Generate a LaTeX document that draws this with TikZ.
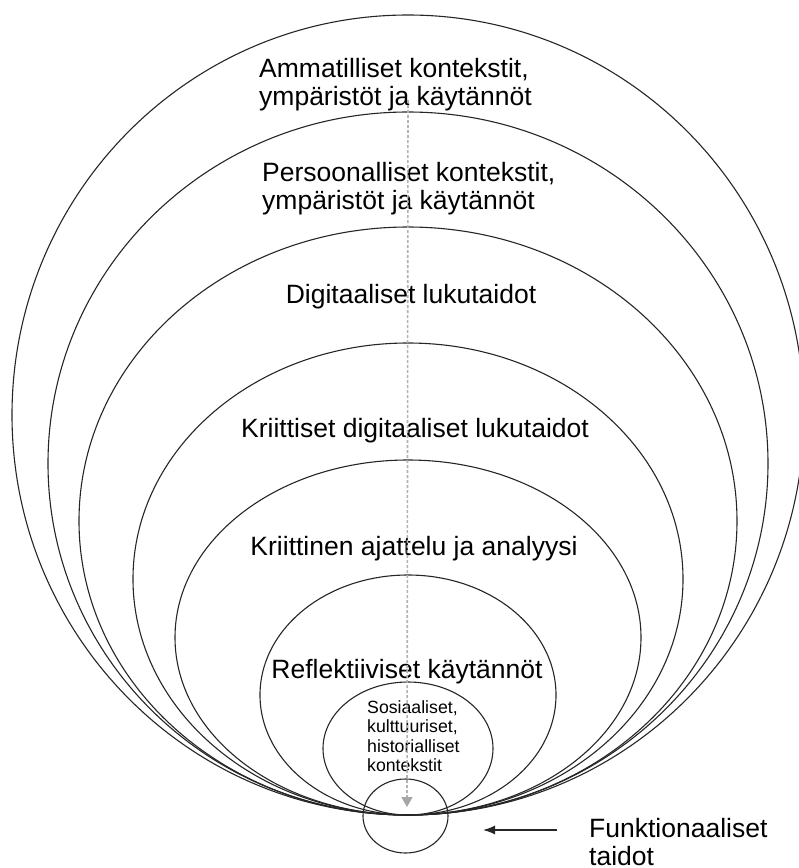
\documentclass[tikz,border=0pt]{standalone}
\usepackage{fontspec}
\setmainfont{Liberation Sans}
\usepackage{tikz}
\usetikzlibrary{shapes.geometric,arrows.meta,positioning}

\begin{document}
\begin{tikzpicture}[x=1pt,y=-1pt]
		\tikzstyle{ring}=[ellipse, draw=black!85, line width=1.1pt, inner sep=0pt]
		\tikzstyle{lbl}=[font=\fontsize{26.5}{28.5}\selectfont, inner sep=0pt, align=left]
		\tikzstyle{small}=[font=\fontsize{17.7}{19.5}\selectfont, inner sep=0pt, align=left]
		\tikzstyle{guide}=[draw=black!30, line width=1.6pt, dash pattern=on 3pt off 2pt, -{Triangle[width=11pt,length=10pt,color=black!35,fill=black!35]}]
		\tikzstyle{connect}=[draw=black!85, line width=1.4pt, -{Latex[length=12pt,width=9pt]}]
		\useasboundingbox (0,0) rectangle (799,868);
		% nested rings, all touching at the bottom
		\node[ring, minimum width=792pt, minimum height=800pt] (amm) at (408,415) { };
		\node[ring, minimum width=720pt, minimum height=703pt] (pers) at (408,463.5) { };
		\node[ring, minimum width=658pt, minimum height=588pt] (digi) at (408,521) { };
		\node[ring, minimum width=550pt, minimum height=472pt] (krit) at (408,579) { };
		\node[ring, minimum width=466pt, minimum height=355pt] (ajat) at (408,637.5) { };
		\node[ring, minimum width=296pt, minimum height=240pt] (refl) at (408,695) { };
		\node[ring, minimum width=170pt, minimum height=133pt] (sos) at (408,748.5) { };
		\node[ring, minimum width=85pt, minimum height=74pt] (funk) at (405.5,816) { };
		
		\node[lbl, anchor=north west] (ammtext) at (259,58) {Ammatilliset kontekstit,\\ympäristöt ja käytännöt};
		\node[lbl, anchor=north west] (perstext) at (262,162) {Persoonalliset kontekstit,\\ympäristöt ja käytännöt};
		\node[lbl, anchor=base] (digitext) at (411,303) {Digitaaliset lukutaidot};
		\node[lbl, anchor=base] (krittext) at (415,437) {Kriittiset digitaaliset lukutaidot};
		\node[lbl, anchor=base] (ajattext) at (414,555) {Kriittinen ajattelu ja analyysi};
		\node[lbl, anchor=base] (refltext) at (407,678) {Reflektiiviset käytännöt};
		\node[small, anchor=north west] (sostext) at (367,700.3) {Sosiaaliset,\\kulttuuriset,\\historialliset\\kontekstit};
		
		\coordinate (gtop) at (408,100);
		\coordinate (gbot) at (407,807);
		\coordinate (astart) at (557,830);
		\coordinate (aend) at (483,830);
		\node[lbl, anchor=north west] (funktext) at (589,818) {Funktionaaliset\\taidot};
		
		\path (gtop) edge [guide] (gbot);
		\path (astart) edge [connect] (aend);
	\end{tikzpicture}
\end{document}
